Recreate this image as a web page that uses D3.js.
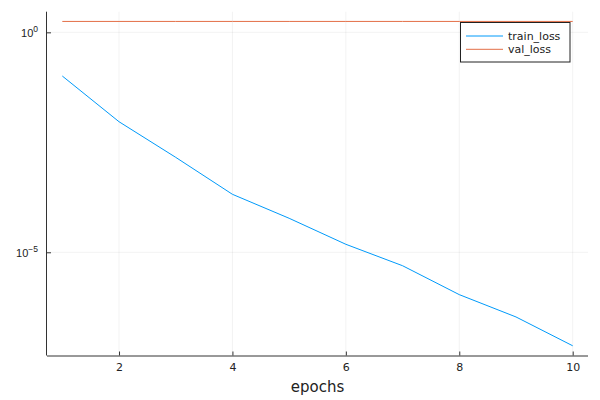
<!DOCTYPE html>
<html><head><meta charset="utf-8">
<script src="https://cdn.jsdelivr.net/npm/d3@7"></script>
<style>body{margin:0;background:#fff}svg{display:block;font-family:"DejaVu Sans",sans-serif}</style>
</head><body><svg id="c" width="600" height="400"></svg>
<script>
const epochs = [1,2,3,4,5,6,7,8,9,10];
const trainLoss = [0.1016, 9.29e-3, 1.44e-3, 2.08e-4, 5.93e-5, 1.52e-5, 4.95e-6, 1.09e-6, 3.39e-7, 7.5e-8];
const valLoss = [1.77,1.77,1.77,1.77,1.77,1.77,1.77,1.77,1.77,1.77];
const xTicks = [2,4,6,8,10];
const yTickExps = [0,-5];
const seriesNames = ["train_loss","val_loss"];
const colors = ["#009AFA","#E36F47"];

const svg = d3.select("#c");
const L = 47, R = 588, T = 11.7, B = 355.5;

const xPad = (d3.max(epochs)-d3.min(epochs))*0.03;
const x = d3.scaleLinear().domain([d3.min(epochs)-xPad, d3.max(epochs)+xPad]).range([L,R]);
const all = trainLoss.concat(valLoss).map(Math.log10);
const lo = d3.min(all), hi = d3.max(all), p = (hi-lo)*0.03;
const y = d3.scaleLog().domain([Math.pow(10,lo-p), Math.pow(10,hi+p)]).range([B,T]);

// grid
const g = svg.append("g");
g.selectAll(".gx").data(xTicks).join("line")
  .attr("x1",d=>x(d)).attr("x2",d=>x(d)).attr("y1",T).attr("y2",B)
  .attr("stroke","#000").attr("stroke-opacity",0.1).attr("stroke-width",0.5);
g.selectAll(".gy").data(yTickExps).join("line")
  .attr("y1",d=>y(Math.pow(10,d))).attr("y2",d=>y(Math.pow(10,d))).attr("x1",L).attr("x2",R)
  .attr("stroke","#000").attr("stroke-opacity",0.1).attr("stroke-width",0.5);

// axes
const xAxis = d3.axisBottom(x).tickValues(xTicks).tickSizeInner(-4).tickSizeOuter(0).tickPadding(8).tickFormat(d3.format("d"));
const gx = svg.append("g").attr("transform",`translate(0,${B})`).call(xAxis);
gx.select(".domain").attr("stroke","#333").attr("d",`M${L},0.5H${R}`);
gx.selectAll(".tick line").attr("stroke","#333");
gx.selectAll(".tick text").attr("font-size",11).attr("fill","#222").attr("font-family","DejaVu Sans");

const yAxis = d3.axisLeft(y).tickValues(yTickExps.map(e=>Math.pow(10,e))).tickSizeInner(-4).tickSizeOuter(0).tickPadding(8).tickFormat("");
const gy = svg.append("g").attr("transform",`translate(${L},0)`).call(yAxis);
gy.select(".domain").attr("stroke","#333").attr("d",`M-0.5,${T}V${B}`);
gy.selectAll(".tick line").attr("stroke","#333");
gy.selectAll(".tick").each(function(d){
  const e = Math.round(Math.log10(d));
  const t = d3.select(this).append("text").attr("x",-9).attr("y",4).attr("text-anchor","end")
    .attr("font-size",11).attr("fill","#222");
  t.append("tspan").text("10");
  t.append("tspan").attr("dy",-5).attr("font-size",8.5).text(e===0?"0":"\u2212"+Math.abs(e));
});

// lines
const line = d3.line().x((d,i)=>x(epochs[i])).y(d=>y(d));
[trainLoss,valLoss].forEach((s,i)=>{
  svg.append("path").datum(s).attr("d",line).attr("fill","none").attr("stroke",colors[i]).attr("stroke-width",1);
});

// x label
svg.append("text").attr("x",(L+R)/2).attr("y",392).attr("text-anchor","middle").attr("font-size",15).attr("fill","#222").text("epochs");

// legend
const lg = svg.append("g");
lg.append("rect").attr("x",460.5).attr("y",22.5).attr("width",109.5).attr("height",39.5).attr("fill","#fff").attr("stroke","#222").attr("stroke-width",1);
seriesNames.forEach((n,i)=>{
  const yy = 36 + i*13.3;
  lg.append("line").attr("x1",466).attr("x2",503).attr("y1",yy).attr("y2",yy).attr("stroke",colors[i]).attr("stroke-width",1);
  lg.append("text").attr("x",508).attr("y",yy+4).attr("font-size",11).attr("fill","#222").text(n);
});
</script></body></html>
